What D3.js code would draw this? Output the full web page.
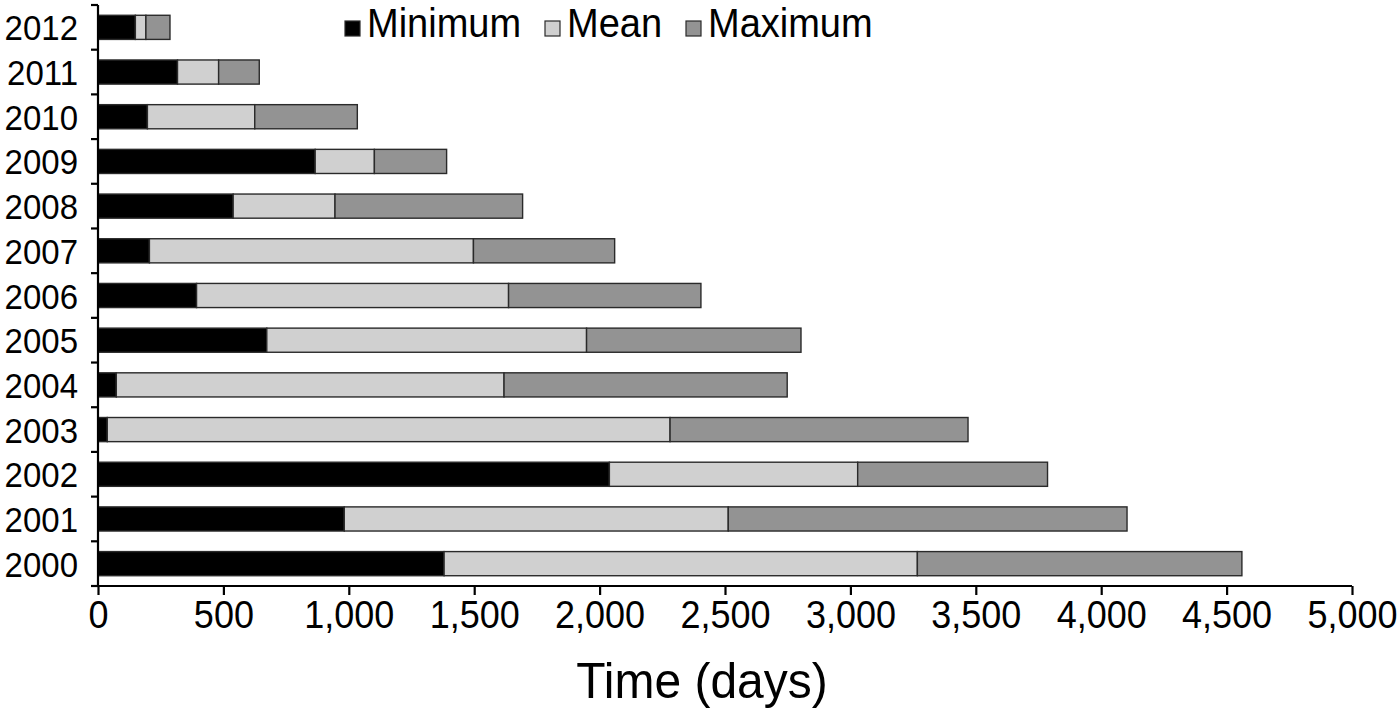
<!DOCTYPE html>
<html><head><meta charset="utf-8">
<script src="https://cdn.jsdelivr.net/npm/d3@7"></script>
<style>
html,body{margin:0;padding:0;background:#fff;}
svg{display:block;font-family:"Liberation Sans",Arial,sans-serif;}
</style></head>
<body>
<svg id="chart" width="1400" height="712"></svg>
<script>
const years = ["2012","2011","2010","2009","2008","2007","2006","2005","2004","2003","2002","2001","2000"];
const minimum = [149, 317, 197, 866, 539, 205, 393, 673, 73, 37, 2039, 982, 1380];
const mean    = [191, 481, 625, 1102, 945, 1497, 1637, 1948, 1619, 2281, 3029, 2513, 3267];
const maximum = [287, 643, 1034, 1390, 1693, 2060, 2404, 2803, 2748, 3469, 3786, 4103, 4561];
const xTicks = [0,500,1000,1500,2000,2500,3000,3500,4000,4500,5000];
const seriesNames = ["Minimum","Mean","Maximum"];
const seriesColors = ["#000000","#d0d0d0","#939393"];

const svg = d3.select("#chart");
const x = d3.scaleLinear().domain([0,5000]).range([98,1352]);
const y = d3.scaleBand().domain(years).range([5,586]).paddingInner(0.46).paddingOuter(0.23);

const rows = years.map((yr,i)=>({year:yr, segs:[[0,minimum[i]],[minimum[i],mean[i]],[mean[i],maximum[i]]]}));

const g = svg.append("g");
rows.forEach(r=>{
  r.segs.forEach((s,k)=>{
    g.append("rect")
      .attr("x", x(s[0]))
      .attr("y", y(r.year))
      .attr("width", Math.max(0, x(s[1]) - x(s[0])))
      .attr("height", y.bandwidth())
      .attr("fill", seriesColors[k])
      .attr("stroke", "#2a2a2a")
      .attr("stroke-width", 1.4);
  });
});

// x axis
const xAxis = d3.axisBottom(x).tickValues(xTicks).tickFormat(d3.format(",")).tickSize(9).tickSizeOuter(0).tickPadding(0);
const xg = svg.append("g").attr("transform","translate(0,586)").call(xAxis);
xg.select(".domain").attr("stroke","#000").attr("stroke-width",2.2).attr("d","M91,0H1352");
xg.selectAll(".tick line").attr("stroke","#000").attr("stroke-width",2.2);
xg.selectAll(".tick text").attr("fill","#000").attr("y",0).attr("dy",0)
  .attr("transform","translate(0,42) scale(1,1.1)")
  .style("font-size","36px").style("font-family","'Liberation Sans',Arial,sans-serif");

// y axis (category boundaries)
const step = y.step();
const y0 = y.range()[0];
const yg = svg.append("g");
yg.append("line").attr("x1",98).attr("x2",98).attr("y1",y0).attr("y2",586).attr("stroke","#000").attr("stroke-width",2.2);
d3.range(years.length+1).forEach(i=>{
  const yy = y0 + i*step;
  yg.append("line").attr("x1",91).attr("x2",98).attr("y1",yy).attr("y2",yy).attr("stroke","#000").attr("stroke-width",2.2);
});
years.forEach(yr=>{
  const cy = y(yr)+y.bandwidth()/2;
  yg.append("text").attr("transform",`translate(78,${cy+13}) scale(1,1.08)`)
    .attr("text-anchor","end")
    .style("font-size","33px").attr("fill","#000").text(yr);
});

// x title
svg.append("text").attr("transform","translate(702,698) scale(1,1.04)").attr("text-anchor","middle")
  .style("font-size","48px").attr("fill","#000").text("Time (days)");

// legend
const legX = [345, 545, 686];
seriesNames.forEach((n,k)=>{
  svg.append("rect").attr("x",legX[k]).attr("y",21).attr("width",15).attr("height",15)
    .attr("fill",seriesColors[k]).attr("stroke","#2a2a2a").attr("stroke-width",1.2);
  svg.append("text").attr("transform",`translate(${legX[k]+22},37) scale(1,1.05)`).style("font-size","38px").attr("fill","#000").text(n);
});
</script>
</body></html>
